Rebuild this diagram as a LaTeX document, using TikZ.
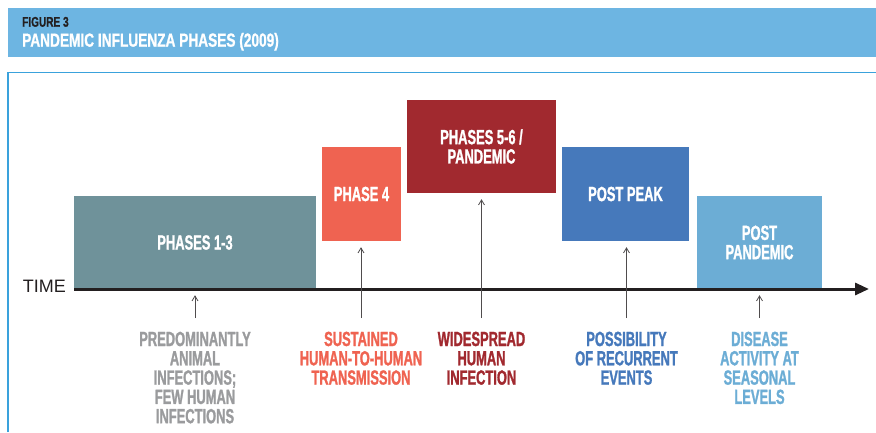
\documentclass[tikz,border=0pt]{standalone}
\usepackage{fontspec}
\usepackage{tikz}
\usetikzlibrary{positioning,arrows.meta}
\newfontfamily\condfont{Liberation Sans}[FakeStretch=0.63,FakeBold=1.2]
\newfontfamily\headfont{Liberation Sans}[FakeStretch=0.72,FakeBold=1]
\newfontfamily\timefont{Liberation Sans}

\definecolor{bandblue}{HTML}{6DB5E2}
\definecolor{frameblue}{HTML}{3AA2DC}
\definecolor{slate}{HTML}{6F929A}
\definecolor{coral}{HTML}{EF6351}
\definecolor{wine}{HTML}{A1292F}
\definecolor{royal}{HTML}{4679BB}
\definecolor{sky}{HTML}{6CADD5}
\definecolor{ash}{HTML}{9A9B9D}
\definecolor{ink}{HTML}{231F20}

\tikzstyle{phasebox} = [rectangle, inner sep=0pt, text=white, align=center, font=\condfont\bfseries\fontsize{20.5}{19.3}\selectfont]
\tikzstyle{caption} = [anchor=north, inner xsep=0pt, inner ysep=13.5pt, align=center, font=\condfont\bfseries\fontsize{20.5}{19.3}\selectfont]
\tikzstyle{connect} = [draw=ink!80, line width=0.8pt, -{Straight Barb[length=5pt,width=6pt]}]
\tikzstyle{timeline} = [draw=ink, line width=3pt, -{Triangle[length=14pt,width=12pt]}]

\begin{document}
\begin{tikzpicture}[x=1pt,y=-1pt]
			\useasboundingbox (0,0) rectangle (876,432);
			% header band and frame
			\fill [bandblue] (8,8) rectangle (876,57.3);
			\node (fig) [anchor=base west, inner sep=0pt, text=ink, font=\headfont\bfseries\fontsize{14}{14}\selectfont] at (22,26.7) {FIGURE 3};
			\node (title) [anchor=base west, inner sep=0pt, text=white, font=\headfont\bfseries\fontsize{19}{19}\selectfont] at (22,46.7) {PANDEMIC INFLUENZA PHASES (2009)};
			\draw [frameblue, line width=1.5pt] (8,432) -- (8,72.7) -- (876,72.7);

			% phases
			\node (p13) [phasebox, fill=slate, minimum width=242pt, minimum height=93pt] at (195,242.5) {PHASES 1-3};
			\node (p4) [phasebox, fill=coral, minimum width=79pt, minimum height=94pt] at (361.5,194) {PHASE 4};
			\node (p56) [phasebox, fill=wine, minimum width=149pt, minimum height=93pt] at (481.5,146.5) {PHASES 5-6 /\\PANDEMIC};
			\node (peak) [phasebox, fill=royal, minimum width=127pt, minimum height=94pt] at (625.5,194) {POST PEAK};
			\node (post) [phasebox, fill=sky, minimum width=125pt, minimum height=93pt] at (759.5,242.5) {POST\\PANDEMIC};

			% time axis
			\coordinate (tstart) at (74,289);
			\coordinate (tend) at (869,289);
			\draw [timeline] (tstart) -- (tend);
			\node (time) [anchor=base east, inner sep=0pt, text=ink, font=\timefont\fontsize{18}{18}\selectfont] at (66,292.3) {TIME};

			% captions
			\node (c13) [caption, text=ash] at (195,318) {PREDOMINANTLY\\ANIMAL\\INFECTIONS;\\FEW HUMAN\\INFECTIONS};
			\node (c4) [caption, text=coral] at (361,318) {SUSTAINED\\HUMAN-TO-HUMAN\\TRANSMISSION};
			\node (c56) [caption, text=wine] at (481.5,318) {WIDESPREAD\\HUMAN\\INFECTION};
			\node (cpeak) [caption, text=royal] at (626.5,318) {POSSIBILITY\\OF RECURRENT\\EVENTS};
			\node (cpost) [caption, text=sky] at (759.5,318) {DISEASE\\ACTIVITY AT\\SEASONAL\\LEVELS};

			\draw [connect] (c13.north) -- ([yshift=-6pt]c13.north |- p13.south);
			\draw [connect] (c4.north) -- ([yshift=-6pt]c4.north |- p4.south);
			\draw [connect] (c56.north) -- ([yshift=-6pt]c56.north |- p56.south);
			\draw [connect] (cpeak.north) -- ([yshift=-6pt]cpeak.north |- peak.south);
			\draw [connect] (cpost.north) -- ([yshift=-6pt]cpost.north |- post.south);
\end{tikzpicture}
\end{document}
